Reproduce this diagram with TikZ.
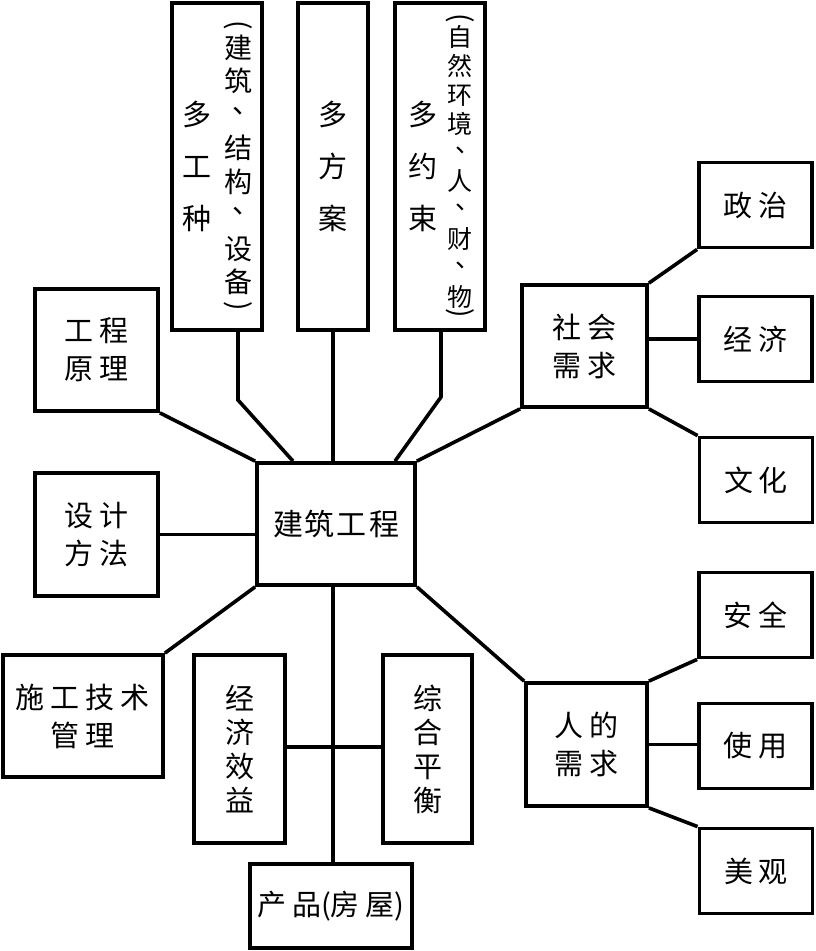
\documentclass[tikz,border=0pt]{standalone}
\usepackage{fontspec}
\setmainfont{Noto Sans CJK SC}
\usepackage{tikz}
\usetikzlibrary{positioning}
\tikzset{
  box_node/.style = {draw=black, line width=3.8pt, rectangle, inner sep=0pt,
    align=center, font=\fontsize{29}{38}\selectfont},% boite simple
  col_node/.style = {box_node, minimum height=327pt},% boite verticale en haut
  tall_node/.style = {box_node, minimum height=188pt},% boite verticale en bas
  leaf_node/.style = {box_node, minimum width=113pt, minimum height=85pt},% feuille a droite
  vtext/.style = {align=center, inner sep=0pt},
  paren/.style = {inner sep=0pt, rotate=-90, font=\fontsize{28}{28}\selectfont},% parenthese verticale
  link/.style = {line width=3.6pt, line join=miter}
}
\newcommand{\gap}{\hspace{6pt}}
\newcommand{\vdun}[2]{\raisebox{#1}{\makebox[#2][l]{\hspace{0.32\dimexpr#2\relax}、}}}% virgule verticale

\begin{document}
\begin{tikzpicture}[x=1pt, y=-1pt]
      \useasboundingbox (0,0) rectangle (815,951);
      % centre
      \node [box_node, minimum width=158pt, minimum height=122pt, font=\fontsize{30}{38}\selectfont] (main) at (336,524)
        {建\hspace{2pt}筑\hspace{2pt}工\hspace{2pt}程};
      % colonnes du haut
      \node [col_node, minimum width=90pt] (gz) at (217,166.5) {};
      \node [vtext, font=\fontsize{29}{52}\selectfont] (gz_a) at (197,166) {多\\工\\种};
      \node [vtext, font=\fontsize{28}{33.5}\selectfont] (gz_b) at (238,165)
        {建\\筑\\\vdun{12pt}{28pt}\\结\\构\\\vdun{12pt}{28pt}\\设\\备};
      \node [paren] (gz_lp) at (238,25) {(};
      \node [paren] (gz_rp) at (238,306) {)};
      \node [col_node, minimum width=70pt] (fa) at (333,166.5) {};
      \node [vtext, font=\fontsize{29}{52}\selectfont] (fa_a) at (333,166) {多\\方\\案};
      \node [col_node, minimum width=90pt] (ys) at (440,166.5) {};
      \node [vtext, font=\fontsize{29}{52}\selectfont] (ys_a) at (423,166) {多\\约\\束};
      \node [vtext, font=\fontsize{25}{28.8}\selectfont] (ys_b) at (460,167)
        {自\\然\\环\\境\\\vdun{10pt}{25pt}\\人\\\vdun{10pt}{25pt}\\财\\\vdun{10pt}{25pt}\\物};
      \node [paren] (ys_lp) at (460,18) {(};
      \node [paren] (ys_rp) at (460,313) {)};
      % a gauche
      \node [box_node, minimum width=123pt, minimum height=122pt] (yl) at (96.5,350) {工\gap 程\\原\gap 理};
      \node [box_node, minimum width=123pt, minimum height=123pt] (ff) at (96.5,534.5) {设\gap 计\\方\gap 法};
      \node [box_node, minimum width=160pt, minimum height=122pt] (sg) at (83,716) {施\gap 工\gap 技\gap 术\\管\gap 理};
      % en bas
      \node [tall_node, minimum width=91pt, font=\fontsize{29}{34}\selectfont] (jj) at (239.5,749) {经\\济\\效\\益};
      \node [tall_node, minimum width=89pt, font=\fontsize{29}{34}\selectfont] (zh) at (427.5,749) {综\\合\\平\\衡};
      \node [box_node, minimum width=162pt, minimum height=84pt] (cp) at (331,906) {产\gap 品(房\gap 屋)};
      % a droite
      \node [box_node, minimum width=125pt, minimum height=122pt] (sh) at (584.5,346) {社\gap 会\\需\gap 求};
      \node [leaf_node] (zz) at (755.5,205) {政\gap 治};
      \node [leaf_node] (jjj) at (755.5,339) {经\gap 济};
      \node [leaf_node] (wh) at (756,480) {文\gap 化};
      \node [box_node, minimum width=121pt, minimum height=123pt] (rd) at (586.5,744.5) {人\gap 的\\需\gap 求};
      \node [leaf_node] (aq) at (755.5,615) {安\gap 全};
      \node [leaf_node] (sy) at (755.5,746) {使\gap 用};
      \node [leaf_node] (mg) at (756,871) {美\gap 观};

      \coordinate (gz_bend) at (238,400);
      \coordinate (ys_bend) at (441,397);
      \draw [link] ([xshift=21pt]gz.south) -- (gz_bend) -- ([xshift=-43pt]main.north);
      \draw [link] (fa.south) -- (fa.south |- main.north);
      \draw [link] ([xshift=1pt]ys.south) -- (ys_bend) -- ([xshift=59pt]main.north);
      \draw [link] (yl.south east) -- (main.north west);
      \draw [link] (ff.east) -- (ff.east -| main.west);
      \draw [link] (sg.north east) -- (main.south west);
      \draw [link] (main.south -| fa.south) -- (cp.north -| fa.south);
      \draw [link] (jj.east |- 0,747) -- (zh.west |- 0,747);
      \draw [link] (main.north east) -- (sh.south west);
      \draw [link] (main.south east) -- (rd.north west);
      \draw [link] (sh.north east) -- (zz.south west);
      \draw [link] (jjj.west -| sh.east) -- (jjj.west);
      \draw [link] (sh.south east) -- (wh.north west);
      \draw [link] (rd.north east) -- (aq.south west);
      \draw [link] (rd.east) -- (rd.east -| sy.west);
      \draw [link] (rd.south east) -- (mg.north west);
\end{tikzpicture}
\end{document}
